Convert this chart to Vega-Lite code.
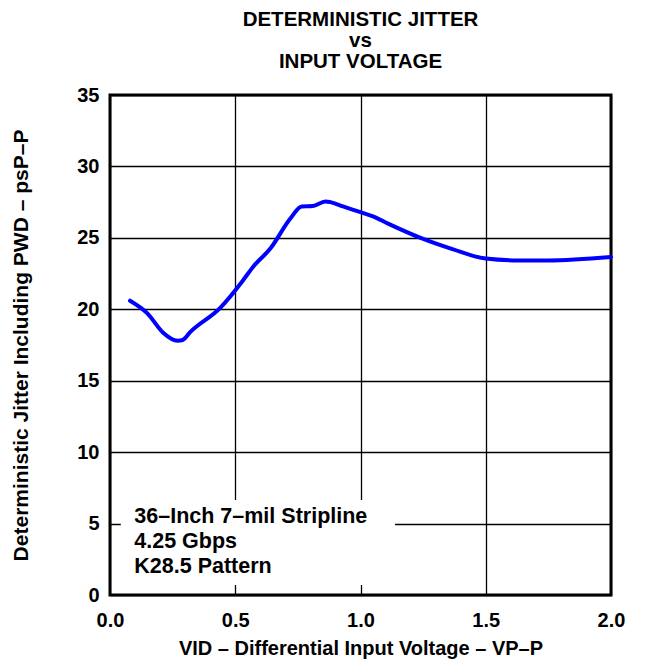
{
  "$schema": "https://vega.github.io/schema/vega-lite/v6.json",
  "autosize": "none",
  "width": 501,
  "height": 500,
  "padding": {"left": 110, "top": 95, "right": 47, "bottom": 67},
  "background": "white",
  "title": {
    "text": ["DETERMINISTIC JITTER", "vs", "INPUT VOLTAGE"],
    "font": "Liberation Sans",
    "fontSize": 20.5,
    "fontWeight": "bold",
    "lineHeight": 21,
    "color": "black",
    "anchor": "middle",
    "offset": 13
  },
  "config": {
    "view": {"stroke": "black", "strokeWidth": 3},
    "axis": {
      "labelFont": "Liberation Sans",
      "labelFontWeight": "bold",
      "labelFontSize": 20,
      "labelColor": "black",
      "titleFont": "Liberation Sans",
      "titleFontWeight": "bold",
      "titleColor": "black",
      "domain": false,
      "ticks": false,
      "tickSize": 0,
      "gridColor": "black",
      "gridWidth": 1.3,
      "gridOpacity": 1
    }
  },
  "data": {
    "values": [
      {"v": 0.08, "dj": 20.6},
      {"v": 0.15, "dj": 19.7},
      {"v": 0.21, "dj": 18.4},
      {"v": 0.27, "dj": 17.8},
      {"v": 0.29, "dj": 17.85},
      {"v": 0.32, "dj": 18.4},
      {"v": 0.44, "dj": 20.1},
      {"v": 0.53, "dj": 22.0},
      {"v": 0.57, "dj": 22.95},
      {"v": 0.64, "dj": 24.25},
      {"v": 0.72, "dj": 26.35},
      {"v": 0.765, "dj": 27.2},
      {"v": 0.81, "dj": 27.23},
      {"v": 0.86, "dj": 27.55},
      {"v": 0.88, "dj": 27.5},
      {"v": 0.93, "dj": 27.2},
      {"v": 1.0, "dj": 26.8},
      {"v": 1.05, "dj": 26.5},
      {"v": 1.11, "dj": 26.0},
      {"v": 1.24, "dj": 25.0},
      {"v": 1.37, "dj": 24.2},
      {"v": 1.5, "dj": 23.55},
      {"v": 1.63, "dj": 23.42},
      {"v": 1.75, "dj": 23.42},
      {"v": 2.0, "dj": 23.66}
    ]
  },
  "layer": [
    {
      "mark": {"type": "line", "color": "#0000FF", "strokeWidth": 4, "strokeJoin": "round", "strokeCap": "round", "interpolate": "monotone"},
      "encoding": {
        "x": {
          "field": "v", "type": "quantitative",
          "scale": {"domain": [0, 2], "nice": false},
          "axis": {"values": [0, 0.5, 1, 1.5, 2], "format": ".1f", "labelPadding": 15, "titlePadding": 8, "titleFontSize": 20, "labelFlush": false},
          "title": "VID – Differential Input Voltage – VP–P"
        },
        "y": {
          "field": "dj", "type": "quantitative",
          "scale": {"domain": [0, 35], "nice": false},
          "axis": {"values": [0, 5, 10, 15, 20, 25, 30, 35], "labelPadding": 11, "titlePadding": 45, "titleFontSize": 21, "labelFlush": false},
          "title": "Deterministic Jitter Including PWD – psP–P"
        }
      }
    },
    {
      "data": {"values": [{}]},
      "mark": {"type": "rect", "fill": "white"},
      "encoding": {
        "x": {"datum": 0.043, "type": "quantitative"},
        "x2": {"datum": 1.138},
        "y": {"datum": 6.65, "type": "quantitative"},
        "y2": {"datum": 0.7}
      }
    },
    {
      "data": {"values": [{}]},
      "mark": {
        "type": "text",
        "text": ["36–Inch 7–mil Stripline", "4.25 Gbps", "K28.5 Pattern"],
        "font": "Liberation Sans",
        "fontWeight": "bold",
        "fontSize": 21.5,
        "lineHeight": 25,
        "align": "left",
        "baseline": "alphabetic",
        "color": "black"
      },
      "encoding": {
        "x": {"datum": 0.097, "type": "quantitative"},
        "y": {"datum": 5.06, "type": "quantitative"}
      }
    }
  ]
}
